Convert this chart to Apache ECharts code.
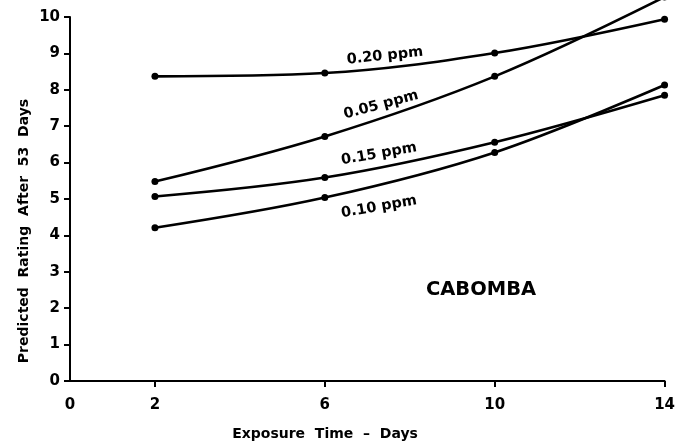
<!DOCTYPE html>
<html>
<head>
<meta charset="utf-8">
<script src="https://cdn.jsdelivr.net/npm/echarts@6/dist/echarts.min.js"></script>
<style>
html,body{margin:0;padding:0;background:#fff;}
#c{width:678px;height:443px;}
</style>
</head>
<body>
<div id="c"></div>
<script>
var days = [2, 6, 10, 14];
var ppm020 = [8.37, 8.46, 9.01, 9.94];
var ppm005 = [5.48, 6.72, 8.37, 10.55];
var ppm015 = [5.07, 5.59, 6.56, 7.85];
var ppm010 = [4.21, 5.04, 6.28, 8.13];
var xTicks = [0, 2, 6, 10, 14];
var seriesNames = ['0.20 ppm', '0.05 ppm', '0.15 ppm', '0.10 ppm'];
var seriesData = [ppm020, ppm005, ppm015, ppm010];

var FONT = 'DejaVu Sans';
var chart = echarts.init(document.getElementById('c'), null, {renderer: 'canvas'});

function pairs(vals) { return days.map(function (d, i) { return [d, vals[i]]; }); }

var series = seriesData.map(function (vals, i) {
  return {
    name: seriesNames[i],
    type: 'line',
    data: pairs(vals),
    smooth: 0.35,
    clip: false,
    symbol: 'circle',
    symbolSize: 7,
    lineStyle: {color: '#000', width: 2.6},
    itemStyle: {color: '#000'},
    animation: false
  };
});

var labelStyle = {fill: '#000', font: 'bold 14.5px "' + FONT + '"', textAlign: 'center', textVerticalAlign: 'middle'};
function rotText(text, x, y, deg) {
  return {type: 'text', x: x, y: y, rotation: deg * Math.PI / 180,
    style: Object.assign({text: text}, labelStyle)};
}

chart.setOption({
  backgroundColor: '#fff',
  animation: false,
  grid: {left: 70, right: 9, top: 17, bottom: 62},
  xAxis: {
    type: 'value', min: 0, max: 14, interval: 2,
    splitLine: {show: false},
    axisLine: {lineStyle: {color: '#000', width: 2}},
    axisTick: {show: true, length: 6, customValues: [2, 6, 10, 14], lineStyle: {color: '#000', width: 2}},
    axisLabel: {customValues: xTicks, color: '#000', fontFamily: FONT, fontWeight: 'bold', fontSize: 15, margin: 17}
  },
  yAxis: {
    type: 'value', min: 0, max: 10, interval: 1,
    splitLine: {show: false},
    axisLine: {show: true, lineStyle: {color: '#000', width: 2}},
    axisTick: {show: true, length: 6, lineStyle: {color: '#000', width: 2}},
    axisLabel: {color: '#000', fontFamily: FONT, fontWeight: 'bold', fontSize: 15, margin: 10}
  },
  series: series,
  graphic: [
    rotText('0.20 ppm', 385, 56, 6),
    rotText('0.05 ppm', 381, 105, 15),
    rotText('0.15 ppm', 379, 154, 10),
    rotText('0.10 ppm', 379, 207, 10),
    {type: 'text', x: 481, y: 290, style: {text: 'CABOMBA', fill: '#000', font: 'bold 19.5px "' + FONT + '"', textAlign: 'center', textVerticalAlign: 'middle'}},
    {type: 'text', x: 325, y: 434, style: {text: 'Exposure  Time  –  Days', fill: '#000', font: 'bold 14px "' + FONT + '"', textAlign: 'center', textVerticalAlign: 'middle'}},
    {type: 'text', x: 24, y: 231, rotation: Math.PI / 2, style: {text: 'Predicted  Rating  After  53  Days', fill: '#000', font: 'bold 14px "' + FONT + '"', textAlign: 'center', textVerticalAlign: 'middle'}}
  ]
});
</script>
</body>
</html>
